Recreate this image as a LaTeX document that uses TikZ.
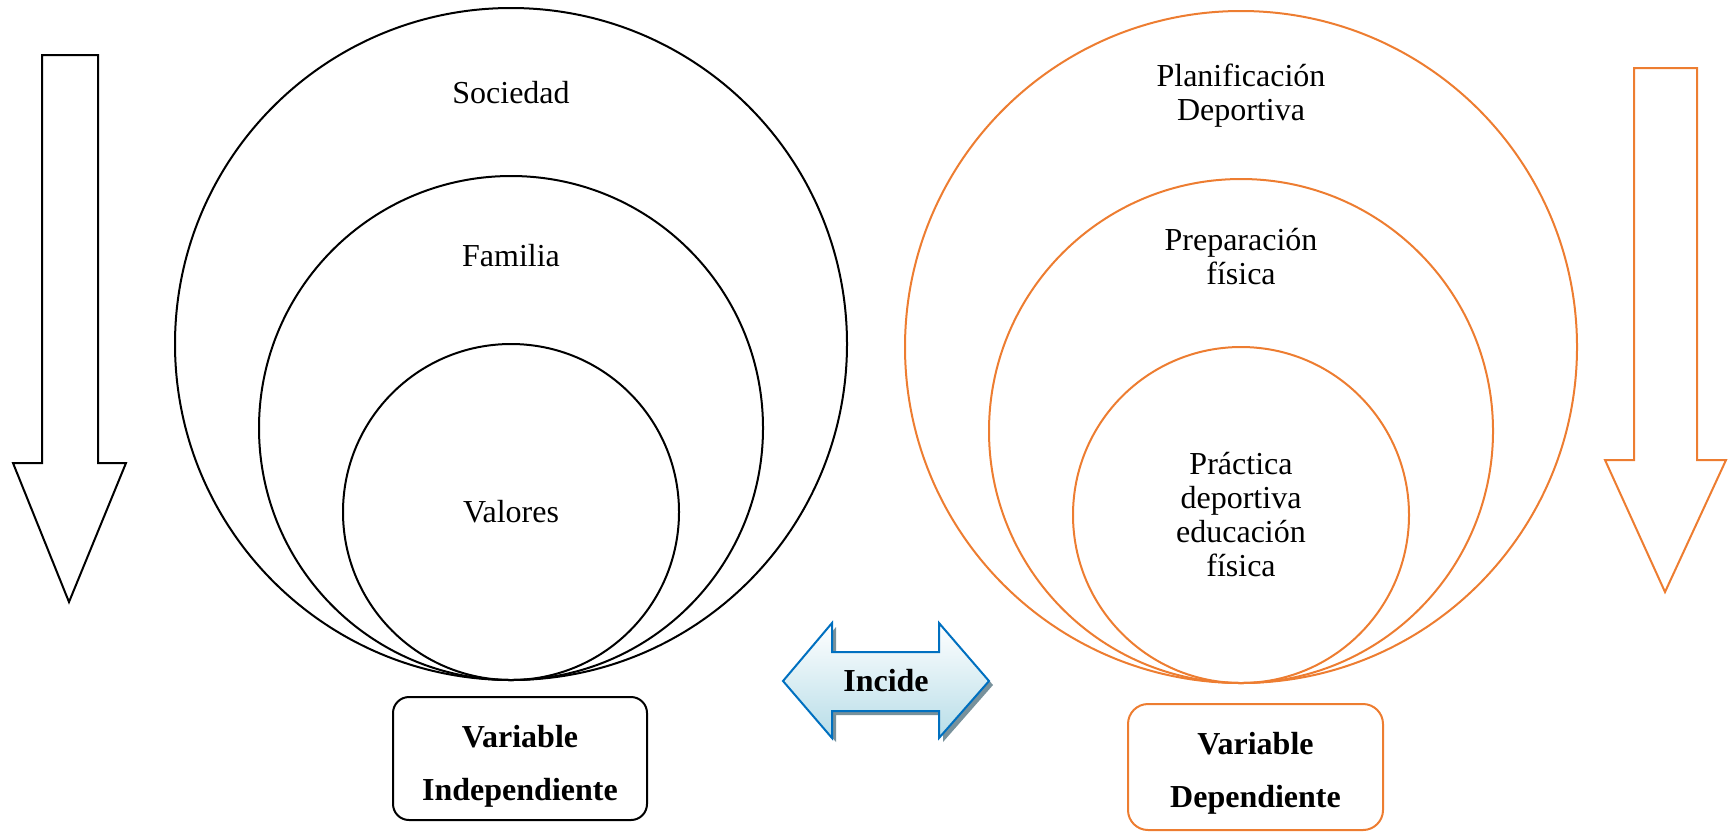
\documentclass[tikz,border=0pt]{standalone}
\usepackage{fontspec}
\setmainfont{Liberation Serif}
\definecolor{naranja}{RGB}{237,125,49}
\definecolor{azulborde}{RGB}{0,112,192}
\definecolor{azulclaro}{RGB}{183,221,232}
\definecolor{sombra}{RGB}{120,145,155}

\begin{document}
\begin{tikzpicture}[x=0.5pt,y=-0.5pt]
    \tikzset{anillo/.style = {shape=circle, draw, line width=1pt, inner sep=0pt}}
    \tikzset{texto/.style = {align=center, font=\fontsize{16}{17}\selectfont, inner sep=0pt}}
    \tikzset{caja/.style = {draw, line width=1pt, inner sep=0pt}}
    \tikzset{textocaja/.style = {align=center, inner sep=0pt, font=\fontsize{16}{26.5}\selectfont\bfseries}}
    \tikzset{flecha/.style = {draw, line width=1pt, line join=miter}}

    \useasboundingbox (0,0) rectangle (1728,832);

    % circles
    \node[anillo, minimum size=336pt] (sociedad) at (511,344) {};
    \node[anillo, minimum size=252pt] (familia) at (511,428) {};
    \node[anillo, minimum size=168pt] (valores) at (511,512) {};
    \node[anillo, naranja, minimum size=336pt] (planif) at (1241,347) {};
    \node[anillo, naranja, minimum size=252pt] (prepar) at (1241,431) {};
    \node[anillo, naranja, minimum size=168pt] (practica) at (1241,515) {};

    % texts
    \node[texto] (tsoc) at (511,93) {Sociedad};
    \node[texto] (tfam) at (511,256) {Familia};
    \node[texto] (tval) at (511,512) {Valores};
    \node[texto] (tplan) at (1241,96) {Planificación\\Deportiva};
    \node[texto] (tprep) at (1241,257) {Preparación\\física};
    \node[texto] (tprac) at (1241,515) {Práctica\\deportiva\\educación\\física};

    % boxes
    \node[caja, rounded corners=8pt, minimum width=127pt, minimum height=61.5pt] (indep) at (520,758.5) {};
    \node[textocaja] (tindep) at (520,766) {Variable\\Independiente};
    \node[caja, naranja, rounded corners=10pt, minimum width=127.5pt, minimum height=63pt] (dep) at (1255.5,767) {};
    \node[textocaja] (tdep) at (1255.5,773) {Variable\\Dependiente};

    % down arrows
    \draw[flecha] (42,55) -- (98,55) -- (98,463) -- (126,463) -- (69,602) -- (13,463) -- (42,463) -- cycle;
    \draw[flecha, naranja] (1634,68) -- (1697,68) -- (1697,460) -- (1726,460) -- (1665,592) -- (1605,460) -- (1634,460) -- cycle;

    % double arrow
    \fill[sombra] (787,685) -- (836,627) -- (836,656) -- (943,656) -- (943,627) -- (993,685) -- (943,742) -- (943,715) -- (836,715) -- (836,742) -- cycle;
    \draw[flecha, azulborde, top color=white, bottom color=azulclaro] (783,681) -- (832,623) -- (832,652) -- (939,652) -- (939,623) -- (989,681) -- (939,738) -- (939,711) -- (832,711) -- (832,738) -- cycle;
    \node[texto, font=\fontsize{16}{17}\selectfont\bfseries] (incide) at (886,681) {Incide};
\end{tikzpicture}
\end{document}
